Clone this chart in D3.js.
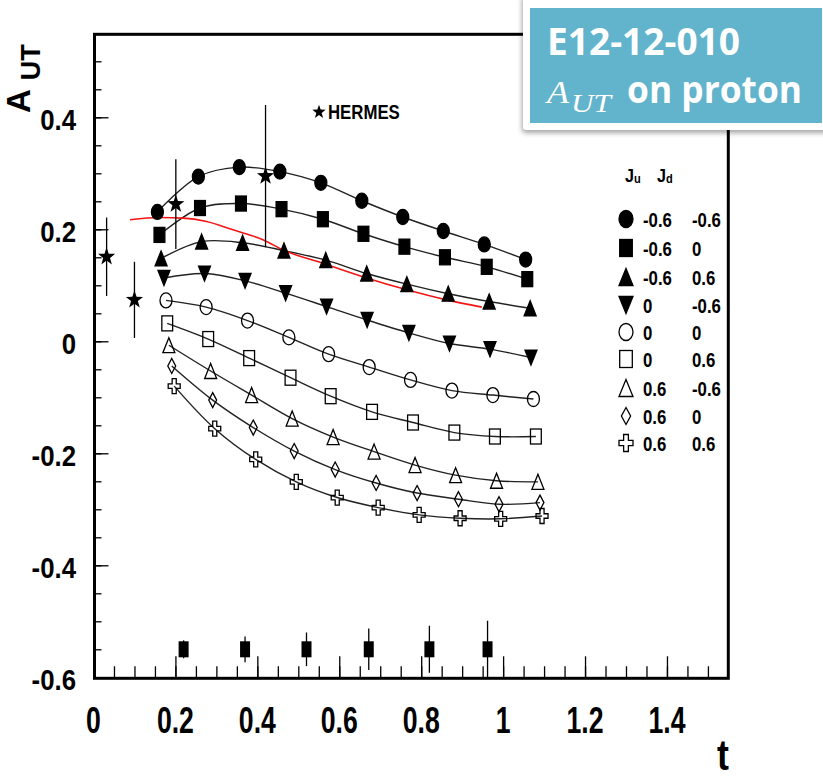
<!DOCTYPE html>
<html><head><meta charset="utf-8">
<script src="https://cdn.jsdelivr.net/npm/d3@7"></script>
<style>body{margin:0;background:#fff}</style>
</head><body>
<svg id="c" width="823" height="780"></svg>
<script>
// ---------------- data ----------------
const legendJu = ["-0.6","-0.6","-0.6","0","0","0","0.6","0.6","0.6"];
const legendJd = ["-0.6","0","0.6","-0.6","0","0.6","-0.6","0","0.6"];
const markerKinds = ["circle","square","triUp","triDown","circle","square","triUp","diamond","cross"];
const markerFilled = [true,true,true,true,false,false,false,false,false];

const t1 = [0.156,0.256,0.356,0.455,0.555,0.655,0.755,0.854,0.954,1.055];
const t2 = [0.161,0.260,0.360,0.459,0.560,0.659,0.759,0.858,0.960,1.059];
const t3 = [0.165,0.264,0.364,0.465,0.567,0.667,0.765,0.866,0.966,1.066];
const t4 = [0.172,0.271,0.370,0.469,0.569,0.668,0.770,0.869,0.968,1.068];
const t5 = [0.177,0.275,0.376,0.477,0.574,0.673,0.774,0.875,0.975,1.074];
const t6 = [0.180,0.280,0.380,0.481,0.579,0.680,0.780,0.881,0.980,1.080];
const t7 = [0.184,0.286,0.386,0.485,0.585,0.685,0.785,0.884,0.984,1.085];
const t8 = [0.191,0.291,0.390,0.490,0.590,0.690,0.790,0.891,0.990,1.090];
const t9 = [0.197,0.296,0.396,0.495,0.595,0.695,0.795,0.895,0.994,1.095];

const a1 = [0.231,0.294,0.311,0.303,0.283,0.251,0.222,0.197,0.173,0.146];
const a2 = [0.190,0.238,0.246,0.236,0.218,0.192,0.169,0.150,0.133,0.111];
const a3 = [0.148,0.178,0.176,0.162,0.145,0.121,0.102,0.085,0.071,0.059];
const a4 = [0.113,0.121,0.108,0.086,0.062,0.038,0.015,-0.004,-0.014,-0.029];
const a5 = [0.073,0.061,0.037,0.007,-0.023,-0.046,-0.069,-0.088,-0.096,-0.103];
const a6 = [0.032,0.004,-0.030,-0.065,-0.098,-0.126,-0.145,-0.163,-0.170,-0.170];
const a7 = [-0.007,-0.053,-0.096,-0.138,-0.171,-0.197,-0.221,-0.239,-0.249,-0.251];
const a8 = [-0.044,-0.105,-0.154,-0.196,-0.229,-0.253,-0.271,-0.282,-0.291,-0.288];
const a9 = [-0.080,-0.156,-0.211,-0.251,-0.279,-0.297,-0.310,-0.316,-0.317,-0.312];

const seriesT = [t1,t2,t3,t4,t5,t6,t7,t8,t9];
const seriesA = [a1,a2,a3,a4,a5,a6,a7,a8,a9];

const hermesT = [0.032,0.100,0.201,0.420];
const hermesA = [0.151,0.074,0.245,0.295];
const hermesErr = [0.070,0.068,0.080,0.127];

const projT = [0.220,0.370,0.520,0.672,0.820,0.962];
const projA = [-0.55,-0.55,-0.55,-0.55,-0.55,-0.55];
const projErr = [0.016,0.023,0.030,0.037,0.042,0.051];

const redT = [0.089,0.162,0.219,0.276,0.341,0.415,0.463,0.561,0.659,0.765,0.862,0.948];
const redA = [0.217,0.221,0.220,0.214,0.199,0.181,0.163,0.139,0.115,0.092,0.074,0.061];

const xTickLabels = ["0","0.2","0.4","0.6","0.8","1","1.2","1.4"];
const yTickLabels = ["-0.6","-0.4","-0.2","0","0.2","0.4"];

// ---------------- drawing ----------------
const svg = d3.select("#c");
const x = d3.scaleLinear().domain([0,1.55]).range([93.5,728.4]);
const y = d3.scaleLinear().domain([-0.6,0.55]).range([677.3,33.3]);
const FONT = "'Liberation Sans', Arial, Helvetica, sans-serif";

function label(parent, px, py, str, size, anchor, sx) {
  const g = parent.append("g").attr("transform", `translate(${px},${py}) scale(${sx},1)`);
  return g.append("text").attr("text-anchor", anchor).attr("font-family", FONT)
    .attr("font-weight","bold").attr("font-size", size).attr("fill","#000").text(str);
}

function marker(g, kind, filled, cx, cy, w, h) {
  const fill = filled ? "#000" : "none";
  const sw = 1.3;
  let el;
  if (kind === "circle") {
    el = g.append("ellipse").attr("cx",cx).attr("cy",cy).attr("rx",w/2).attr("ry",h/2);
  } else if (kind === "square") {
    el = g.append("rect").attr("x",cx-w*0.45).attr("y",cy-h/2).attr("width",w*0.9).attr("height",h);
  } else if (kind === "triUp") {
    el = g.append("path").attr("d",`M${cx},${cy-h/2}L${cx+w/2},${cy+h/2}L${cx-w/2},${cy+h/2}Z`);
  } else if (kind === "triDown") {
    el = g.append("path").attr("d",`M${cx},${cy+h/2}L${cx+w/2},${cy-h/2}L${cx-w/2},${cy-h/2}Z`);
  } else if (kind === "diamond") {
    const hw = w*0.33;
    el = g.append("path").attr("d",`M${cx},${cy-h/2}L${cx+hw},${cy}L${cx},${cy+h/2}L${cx-hw},${cy}Z`);
  } else if (kind === "cross") {
    const a = w*0.17, b = w/2, c = h/2, d = h*0.15;
    el = g.append("path").attr("d",
      `M${cx-a},${cy-c}H${cx+a}V${cy-d}H${cx+b}V${cy+d}H${cx+a}V${cy+c}H${cx-a}V${cy+d}H${cx-b}V${cy-d}H${cx-a}Z`);
  }
  el.attr("fill", fill).attr("stroke","#000").attr("stroke-width", sw);
  return el;
}

function star(g, cx, cy, r, sy) {
  const pts = [];
  for (let i = 0; i < 10; i++) {
    const ang = -Math.PI/2 + i*Math.PI/5;
    const rr = i % 2 === 0 ? r : r*0.4;
    pts.push([cx + rr*Math.cos(ang), cy + rr*Math.sin(ang)*sy]);
  }
  g.append("path").attr("d", "M" + pts.map(p=>p.join(",")).join("L") + "Z").attr("fill","#000");
}

// axis ticks (inside the frame)
const yMinorVals = d3.range(-12, 11).map(i => +(i*0.05).toFixed(2));
const yMajorVals = yTickLabels.map(Number);
const xMinorVals = d3.range(1, 31).map(i => +(i*0.05).toFixed(2));
const xMajorVals = xTickLabels.map(Number);

function styleAxis(g) {
  g.select(".domain").remove();
  g.selectAll("line").attr("stroke","#000").attr("stroke-width",1.3);
}
svg.append("g").attr("transform",`translate(${x(0)+1},0)`)
  .call(d3.axisRight(y).tickValues(yMinorVals).tickSize(7).tickFormat("")).call(styleAxis);
svg.append("g").attr("transform",`translate(${x(0)+1},0)`)
  .call(d3.axisRight(y).tickValues(yMajorVals).tickSize(14).tickFormat("")).call(styleAxis);
svg.append("g").attr("transform",`translate(0,${y(-0.6)})`)
  .call(d3.axisTop(x).tickValues(xMinorVals).tickSize(11).tickFormat("")).call(styleAxis);
svg.append("g").attr("transform",`translate(0,${y(-0.6)})`)
  .call(d3.axisTop(x).tickValues(xMajorVals.filter(v=>v>0)).tickSize(21).tickFormat("")).call(styleAxis);

// frame
svg.append("rect").attr("x",94.5).attr("y",34.3).attr("width",633.8).attr("height",644)
  .attr("fill","none").attr("stroke","#000").attr("stroke-width",3);

// tick labels
yTickLabels.forEach(s => label(svg, 76, y(+s)+13, s, 30, "end", 0.86));
xTickLabels.forEach(s => label(svg, x(+s), 733, s, 37, "middle", 0.72));

// axis titles
label(svg, 729, 770, "t", 42, "end", 0.85);
const yt = svg.append("g").attr("transform","translate(30,113) rotate(-90)")
  .append("text").attr("font-family",FONT).attr("font-weight","bold").attr("fill","#000");
yt.append("tspan").attr("font-size",33).text("A");
yt.append("tspan").attr("font-size",27).attr("dx",9).attr("dy",10).text("UT");

// curves
const line = d3.line().x(d=>x(d[0])).y(d=>y(d[1])).curve(d3.curveCatmullRom.alpha(0.5));
const plot = svg.append("g");
seriesT.forEach((ts,i) => {
  const pts = ts.map((t,j)=>[t, seriesA[i][j]]);
  plot.append("path").attr("d", line(pts)).attr("fill","none").attr("stroke","#222").attr("stroke-width",1.4);
});
// red curve
const redLine = d3.line().x(d=>x(d[0])).y(d=>y(d[1])).curve(d3.curveMonotoneX);
plot.append("path").attr("d", redLine(redT.map((t,j)=>[t, redA[j]])))
  .attr("fill","none").attr("stroke","#f41414").attr("stroke-width",1.6);

// markers
seriesT.forEach((ts,i) => {
  ts.forEach((t,j) => marker(plot, markerKinds[i], markerFilled[i], x(t), y(seriesA[i][j]), 12, 15));
});

// HERMES points
hermesT.forEach((t,i) => {
  plot.append("line").attr("x1",x(t)).attr("x2",x(t))
    .attr("y1",y(hermesA[i]+hermesErr[i])).attr("y2",y(hermesA[i]-hermesErr[i]))
    .attr("stroke","#000").attr("stroke-width",1.3);
  star(plot, x(t), y(hermesA[i]), 9, 1.05);
});
star(svg, 319, 112, 7, 1.05);
label(svg, 328, 119, "HERMES", 21, "start", 0.8);

// projected errors at bottom
projT.forEach((t,i) => {
  plot.append("line").attr("x1",x(t)).attr("x2",x(t))
    .attr("y1",y(projA[i]+projErr[i])).attr("y2",y(projA[i]-projErr[i]))
    .attr("stroke","#000").attr("stroke-width",1.3);
  plot.append("rect").attr("x",x(t)-5).attr("y",y(projA[i])-8).attr("width",10).attr("height",16).attr("fill","#000");
});

// legend
const lg = svg.append("g");
const hdr1 = lg.append("g").attr("transform","translate(625,182) scale(0.85,1)").append("text")
  .attr("font-family",FONT).attr("font-weight","bold").attr("fill","#000");
hdr1.append("tspan").attr("font-size",19).text("J");
hdr1.append("tspan").attr("font-size",13).attr("dy",1).text("u");
const hdr2 = lg.append("g").attr("transform","translate(657,182) scale(0.85,1)").append("text")
  .attr("font-family",FONT).attr("font-weight","bold").attr("fill","#000");
hdr2.append("tspan").attr("font-size",19).text("J");
hdr2.append("tspan").attr("font-size",13).attr("dy",1).text("d");
const legendRowY = [219,248,277,305,332,359,388,416,443];
legendJu.forEach((ju,i) => {
  const ry = legendRowY[i];
  marker(lg, markerKinds[i], markerFilled[i], 626, ry, 14, 17);
  label(lg, 643, ry+7.5, ju, 21, "start", 0.8);
  label(lg, 692, ry+7.5, legendJd[i], 21, "start", 0.8);
});

// title box
const defs = svg.append("defs");
defs.append("filter").attr("id","sh").attr("x","-10%").attr("y","-10%").attr("width","130%").attr("height","140%")
  .append("feDropShadow").attr("dx",-1).attr("dy",3).attr("stdDeviation",2.5)
  .attr("flood-color","#000").attr("flood-opacity",0.35);
svg.append("rect").attr("x",523).attr("y",-6).attr("width",310).attr("height",136).attr("rx",4)
  .attr("fill","#fff").attr("filter","url(#sh)");
svg.append("rect").attr("x",530).attr("y",8).attr("width",292).attr("height",115).attr("fill","#62b3cc");
svg.append("text").attr("x",547).attr("y",55).attr("font-family","'Open Sans', Lato, sans-serif")
  .attr("font-weight",700).attr("font-size",37).attr("fill","#fff")
  .attr("textLength",193).attr("lengthAdjust","spacingAndGlyphs").text("E12-12-010");
svg.append("text").attr("x",547).attr("y",103).attr("font-family","'Liberation Serif', 'DejaVu Serif', serif")
  .attr("font-style","italic").attr("font-size",32).attr("fill","#fff")
  .attr("textLength",22).attr("lengthAdjust","spacingAndGlyphs").text("A");
svg.append("text").attr("x",571).attr("y",112).attr("font-family","'Liberation Serif', 'DejaVu Serif', serif")
  .attr("font-style","italic").attr("font-size",25).attr("fill","#fff")
  .attr("textLength",40).attr("lengthAdjust","spacingAndGlyphs").text("UT");
svg.append("text").attr("x",627).attr("y",103).attr("font-family","'Open Sans', Lato, sans-serif")
  .attr("font-weight",700).attr("font-size",38).attr("fill","#fff")
  .attr("textLength",175).attr("lengthAdjust","spacingAndGlyphs").text("on proton");
</script></body></html>
